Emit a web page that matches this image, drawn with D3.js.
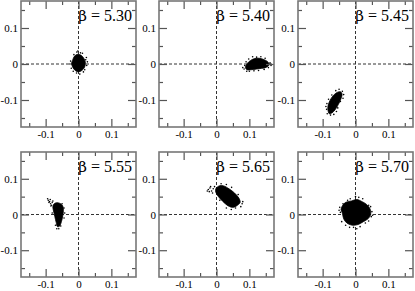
<!DOCTYPE html>
<html>
<head>
<meta charset="utf-8">
<script src="https://cdn.jsdelivr.net/npm/d3@7"></script>
<style>
  body { margin: 0; background: #fff; }
  svg { display: block; }
  svg text { font-family: "Liberation Serif", "Times New Roman", serif; }
  .tick text { font-size: 11px; fill: #000; }
</style>
</head>
<body>
<svg width="415" height="291"></svg>
<script>
var betas = ["5.30", "5.40", "5.45", "5.55", "5.65", "5.70"];

var majorTicks = [-0.1, 0, 0.1];
var minorTicks = [-0.15, -0.05, 0.05, 0.15];

// dense part of each cloud, traced as an outline
var core530 = [[-0.018,0.010],[-0.012,0.022],[-0.002,0.027],[0.008,0.024],[0.016,0.016],[0.021,0.004],[0.018,-0.010],[0.010,-0.018],[0.000,-0.022],[-0.010,-0.018],[-0.018,-0.008],[-0.021,0.002]];
var core540 = [[0.088,-0.010],[0.094,0.002],[0.104,0.010],[0.116,0.015],[0.130,0.016],[0.145,0.012],[0.156,0.006],[0.160,-0.002],[0.152,-0.009],[0.138,-0.012],[0.122,-0.014],[0.105,-0.016],[0.093,-0.016]];
var core545 = [[-0.083,-0.132],[-0.084,-0.118],[-0.078,-0.102],[-0.068,-0.088],[-0.056,-0.079],[-0.046,-0.077],[-0.041,-0.083],[-0.044,-0.096],[-0.052,-0.112],[-0.062,-0.127],[-0.072,-0.136],[-0.080,-0.138]];
var core555 = [[-0.074,0.030],[-0.066,0.033],[-0.056,0.031],[-0.048,0.024],[-0.046,0.012],[-0.048,-0.004],[-0.052,-0.020],[-0.058,-0.033],[-0.064,-0.034],[-0.068,-0.022],[-0.072,-0.006],[-0.076,0.010],[-0.078,0.022]];
var core565 = [[-0.002,0.072],[0.008,0.080],[0.022,0.080],[0.038,0.072],[0.055,0.060],[0.068,0.046],[0.072,0.034],[0.064,0.026],[0.050,0.020],[0.036,0.024],[0.020,0.036],[0.006,0.050],[-0.002,0.062]];
var core570 = [[-0.040,0.024],[-0.030,0.034],[-0.012,0.038],[0.004,0.042],[0.020,0.036],[0.034,0.028],[0.044,0.016],[0.046,0.000],[0.038,-0.012],[0.024,-0.020],[0.008,-0.028],[-0.010,-0.030],[-0.026,-0.024],[-0.036,-0.012],[-0.040,0.004],[-0.044,0.014]];

// loose points round the edge
var loose530 = [[-0.005,0.033],[0.012,0.030],[0.025,-0.004],[0.022,0.012],[-0.024,0.008],[-0.016,-0.020],[0.004,-0.028],[0.015,-0.022],[-0.002,0.036],[0.027,0.006],
  [-0.022,-0.012],[0.006,0.031],[-0.014,0.026],[0.019,-0.016],[-0.006,-0.025],[0.024,0.018],[-0.026,0.000]];
var loose540 = [[0.084,-0.014],[0.090,0.006],[0.110,0.020],[0.135,0.020],[0.163,0.003],[0.158,-0.010],[0.100,-0.020],[0.128,-0.018],[0.086,-0.004],
  [0.098,0.014],[0.122,0.019],[0.148,0.016],[0.166,-0.004],[0.145,-0.015],[0.114,-0.019],[0.092,-0.020],[0.080,-0.010]];
var loose545 = [[-0.088,-0.126],[-0.087,-0.110],[-0.040,-0.076],[-0.036,-0.085],[-0.050,-0.070],[-0.058,-0.132],[-0.076,-0.142],[-0.066,-0.140],[-0.038,-0.095],
  [-0.082,-0.098],[-0.072,-0.086],[-0.060,-0.074],[-0.046,-0.104],[-0.054,-0.122],[-0.086,-0.138],[-0.090,-0.118]];
var loose555 = [[-0.092,0.040],[-0.088,0.036],[-0.085,0.030],[-0.090,0.034],[-0.082,0.026],[-0.086,0.042],[-0.080,0.034],[-0.044,0.018],[-0.060,-0.040],[-0.042,0.004],[-0.070,-0.030],[-0.084,0.024],
  [-0.078,0.038],[-0.094,0.044],[-0.050,0.030],[-0.044,-0.010],[-0.054,-0.032],[-0.066,-0.040],[-0.080,0.004]];
var loose565 = [[-0.025,0.070],[-0.020,0.074],[-0.015,0.066],[-0.010,0.072],[-0.022,0.064],[-0.006,0.078],[0.078,0.030],[0.080,0.036],[0.045,0.014],[0.058,0.018],[0.030,0.084],[-0.012,0.060],
  [-0.028,0.066],[-0.018,0.078],[0.014,0.086],[0.046,0.076],[0.066,0.056],[0.074,0.022],[0.030,0.018],[0.010,0.040]];
var loose570 = [[-0.048,0.020],[-0.046,0.006],[0.000,0.050],[0.010,0.048],[-0.016,0.044],[0.050,0.008],[0.048,-0.006],[-0.006,-0.036],[0.014,-0.034],[-0.030,-0.030],[0.030,-0.024],[0.040,0.026],[-0.038,0.030],
  [-0.050,0.012],[-0.024,0.040],[0.022,0.044],[0.046,0.022],[0.052,-0.002],[0.040,-0.018],[-0.018,-0.036],[-0.042,-0.020],[0.004,-0.040]];

var cores = [core530, core540, core545, core555, core565, core570];
var looses = [loose530, loose540, loose545, loose555, loose565, loose570];

var lefts = [21, 159, 298];
var tops = [1, 152];
var heights = [126, 125];
var pw = 115;
var lim = 0.175;

var svg = d3.select("svg");
var fmt = function(d) { return d === 0 ? "0" : String(d); };

betas.forEach(function(b, i) {
  var col = i % 3, row = Math.floor(i / 3);
  var left = lefts[col], top = tops[row], ph = heights[row];

  var x = d3.scaleLinear().domain([-lim, lim]).range([0, pw]);
  var y = d3.scaleLinear().domain([-lim, lim]).range([ph, 0]);

  var g = svg.append("g").attr("transform", "translate(" + left + "," + top + ")");

  // dashed zero lines
  g.append("line").attr("x1", 0).attr("x2", pw).attr("y1", y(0)).attr("y2", y(0))
    .attr("stroke", "#333").attr("stroke-dasharray", "3,2");
  g.append("line").attr("x1", x(0)).attr("x2", x(0)).attr("y1", 0).attr("y2", ph)
    .attr("stroke", "#333").attr("stroke-dasharray", "3,2");

  var line = d3.line()
    .x(function(d) { return x(d[0]); })
    .y(function(d) { return y(d[1]); })
    .curve(d3.curveCatmullRomClosed);

  g.append("path").attr("d", line(cores[i]))
    .attr("fill", "#000").attr("stroke", "#000").attr("stroke-width", 0.8);

  g.selectAll(".pt").data(looses[i]).enter().append("circle")
    .attr("class", "pt")
    .attr("cx", function(d) { return x(d[0]); })
    .attr("cy", function(d) { return y(d[1]); })
    .attr("r", 0.8)
    .attr("fill", "#000");

  // major + minor ticks on all four sides, pointing in
  g.append("g").call(d3.axisLeft(y).tickValues(majorTicks).tickSize(-8).tickPadding(3).tickFormat(fmt));
  g.append("g").call(d3.axisLeft(y).tickValues(minorTicks).tickSize(-4).tickFormat(""));
  g.append("g").attr("transform", "translate(0," + ph + ")")
    .call(d3.axisBottom(x).tickValues(majorTicks).tickSize(-8).tickPadding(3).tickFormat(fmt));
  g.append("g").attr("transform", "translate(0," + ph + ")")
    .call(d3.axisBottom(x).tickValues(minorTicks).tickSize(-4).tickFormat(""));
  g.append("g").call(d3.axisTop(x).tickValues(majorTicks).tickSize(-8).tickFormat(""));
  g.append("g").call(d3.axisTop(x).tickValues(minorTicks).tickSize(-4).tickFormat(""));
  g.append("g").attr("transform", "translate(" + pw + ",0)")
    .call(d3.axisRight(y).tickValues(majorTicks).tickSize(-8).tickFormat(""));
  g.append("g").attr("transform", "translate(" + pw + ",0)")
    .call(d3.axisRight(y).tickValues(minorTicks).tickSize(-4).tickFormat(""));

  g.selectAll(".domain").remove();
  g.selectAll("g").attr("font-family", null);
  g.selectAll(".tick line").attr("stroke", "#555").attr("stroke-width", 1.2);

  g.append("rect").attr("width", pw).attr("height", ph)
    .attr("fill", "none").attr("stroke", "#777").attr("stroke-width", 1.6);

  // beta glyph comes from DejaVu Serif, Liberation Serif has none here
  var label = g.append("text")
    .attr("x", pw - 4).attr("y", 20)
    .attr("text-anchor", "end")
    .style("font-size", "16px");
  label.append("tspan").style("font-family", "'DejaVu Serif'").style("font-size", "15px").text("\u03b2");
  label.append("tspan").text(" = " + b);
});
</script>
</body>
</html>
